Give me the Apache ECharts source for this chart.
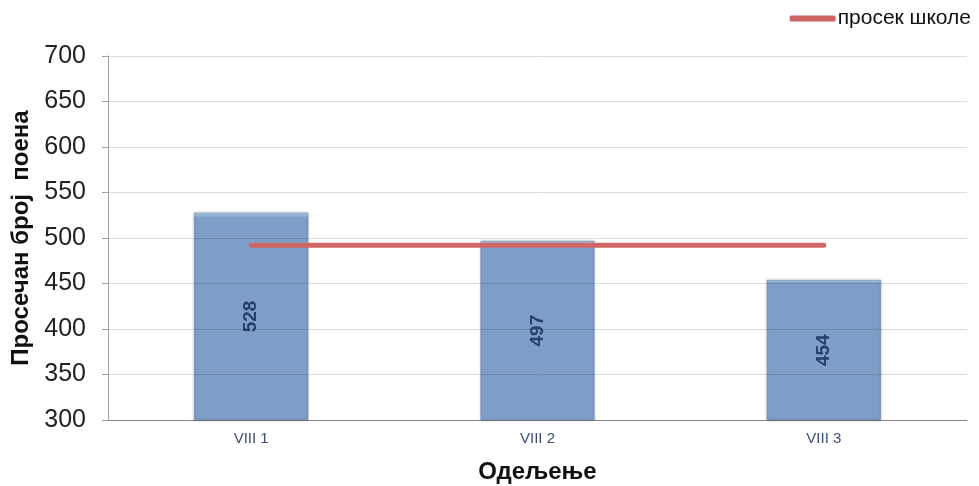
<!DOCTYPE html>
<html><head><meta charset="utf-8">
<script src="https://cdn.jsdelivr.net/npm/echarts@6/dist/echarts.min.js"></script>
<style>html,body{margin:0;padding:0;background:#fff}#c{width:979px;height:486px}</style>
</head><body><div id="c"></div>
<script>
const categories = ['VIII 1', 'VIII 2', 'VIII 3'];
const averages = [528, 497, 454];
const schoolAverage = [492, 492, 492];
const yTicks = [300, 350, 400, 450, 500, 550, 600, 650, 700];

const chart = echarts.init(document.getElementById('c'));
chart.setOption({
  animation: false,
  grid: { left: 108, right: 12, top: 56, bottom: 66, outerBoundsMode: 'none' },
  legend: {
    right: 3, top: 3,
    data: [{ name: 'просек школе', icon: 'roundRect' }],
    itemWidth: 46, itemHeight: 6, itemGap: 2,
    textStyle: { fontFamily: 'Liberation Sans, Arial', fontSize: 21, color: '#111', padding: [4, 0, 0, -3] }
  },
  xAxis: {
    type: 'category', data: categories,
    name: 'Одељење', nameLocation: 'middle', nameGap: 40,
    nameTextStyle: { fontFamily: 'Liberation Sans, Arial', fontSize: 24, fontWeight: 'bold', color: '#111' },
    axisLine: { lineStyle: { color: '#999' } },
    axisTick: { lineStyle: { color: '#999' }, length: 5 },
    axisLabel: { fontFamily: 'Liberation Sans, Arial', fontSize: 15, color: '#3b4f70', margin: 11 }
  },
  yAxis: {
    type: 'value', min: yTicks[0], max: yTicks[yTicks.length - 1], interval: 50,
    name: 'Просечан број  поена', nameLocation: 'middle', nameGap: 73,
    nameTextStyle: { fontFamily: 'Liberation Sans, Arial', fontSize: 24, fontWeight: 'bold', color: '#111' },
    axisLine: { show: true, lineStyle: { color: '#a0a0a0' } },
    axisTick: { show: true, length: 6, lineStyle: { color: '#a0a0a0' } },
    axisLabel: { fontFamily: 'Liberation Sans, Arial', fontSize: 25, color: '#222', margin: 22 },
    splitLine: { lineStyle: { color: 'rgba(0,0,0,0.13)' } },
    z: 3
  },
  series: [
    {
      name: 'Просечан број поена', type: 'bar', data: averages, barWidth: '40%',
      itemStyle: {
        color: new echarts.graphic.LinearGradient(0, 0, 0, 1, [
          { offset: 0, color: 'rgba(180,210,240,0.95)' },
          { offset: 0.025, color: 'rgba(122,156,200,0.95)' },
          { offset: 1, color: 'rgba(122,156,200,0.95)' }
        ]),
        borderColor: 'rgba(100,130,170,0.5)', borderWidth: 1,
        shadowColor: 'rgba(0,0,0,0.25)', shadowBlur: 3
      },
      label: {
        show: true, position: 'inside', rotate: 90,
        fontFamily: 'Liberation Sans, Arial', fontSize: 19, fontWeight: 'bold', color: '#243f6a'
      },
      z: 1
    },
    {
      name: 'просек школе', type: 'line', data: schoolAverage,
      symbol: 'none', lineStyle: { color: '#cf6666', width: 5, cap: 'round' },
      itemStyle: { color: '#cf6666' }, z: 4
    }
  ]
});
</script></body></html>
